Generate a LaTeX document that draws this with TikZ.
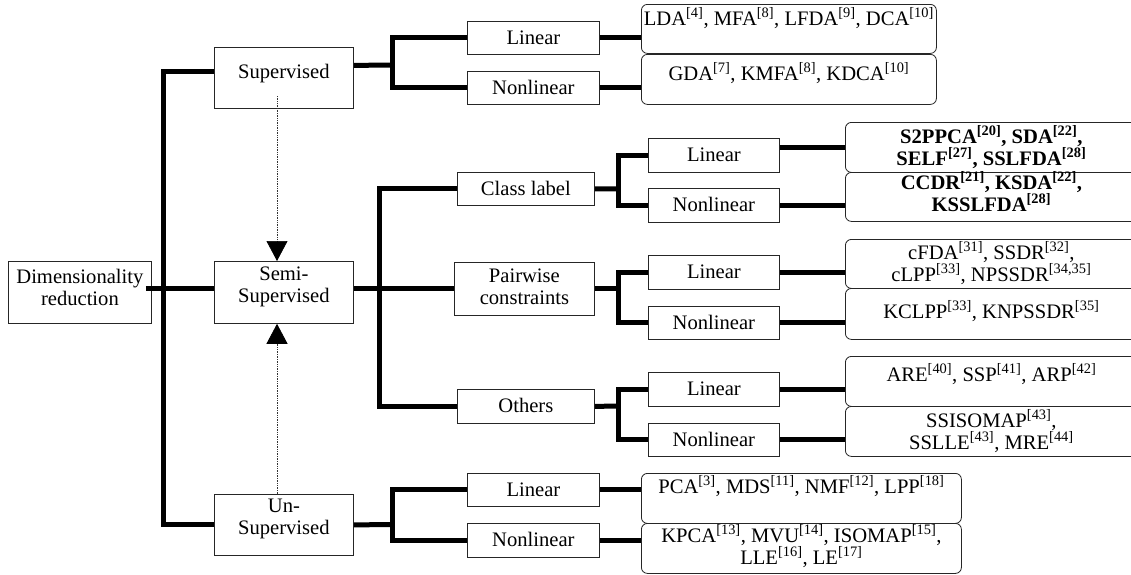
\documentclass[tikz,border=0pt]{standalone}
\usepackage{fontspec}
\setmainfont{Liberation Serif}
\usetikzlibrary{arrows.meta}
\newcommand\sr[1]{\textsuperscript{[#1]}}
% \bx{height}{width}{first baseline from top}{text}
\newcommand\bx[4]{\parbox[c][#1pt][t]{#2pt}{\fontsize{20.6}{22}\selectfont\lineskiplimit=-30pt\relax\centering\vspace*{\dimexpr#3pt-20pt\relax}\rule{0pt}{20pt}#4\par}}
\tikzset{
  box/.style={draw=black!85, line width=0.8pt, inner sep=0pt, anchor=north west},
  res/.style={box, rounded corners=6pt},
  conn/.style={line width=5pt, line join=miter, line cap=butt},
  dotl/.style={black!80, line width=0.7pt, densely dotted, -{Triangle[length=20pt,width=21pt,black]}}
}
\begin{document}
\begin{tikzpicture}[x=1pt,y=-1pt]
\clip (0,0) rectangle (1131,574);
\fill[white] (0,0) rectangle (1131,574);
% main nodes
\node[box] (dr) at (8,261) {\bx{62}{143}{22}{Dimensionality\\reduction}};
\node[box] (sup) at (214,47) {\bx{61}{139}{31}{Supervised}};
\node[box] (semi) at (214,261) {\bx{62}{139}{19}{Semi-\\Supervised}};
\node[box] (unsup) at (214,494) {\bx{61}{139}{18}{Un-\\Supervised}};
% supervised
\node[box] (sl) at (467,21) {\bx{33}{132}{23}{Linear}};
\node[box] (sn) at (467,71) {\bx{33}{132}{23}{Nonlinear}};
\node[res] (slr) at (641,4) {\bx{49}{295}{21}{LDA\sr{4},~MFA\sr{8},~LFDA\sr{9},~DCA\sr{10}}};
\node[res] (snr) at (641,54) {\bx{50}{295}{26}{GDA\sr{7},~KMFA\sr{8},~KDCA\sr{10}}};
% semi-supervised
\node[box] (cl) at (457,172) {\bx{33}{137}{23}{Class label}};
\node[box] (pw) at (454,262) {\bx{53}{140}{20}{Pairwise\\constraints}};
\node[box] (ot) at (457,389) {\bx{34}{137}{23}{Others}};
\node[box] (cll) at (648,138) {\bx{34}{131}{23}{Linear}};
\node[box] (cln) at (648,188) {\bx{34}{131}{23}{Nonlinear}};
\node[box] (pwl) at (648,255) {\bx{34}{131}{23}{Linear}};
\node[box] (pwn) at (648,306) {\bx{33}{131}{23}{Nonlinear}};
\node[box] (otl) at (648,372) {\bx{34}{131}{23}{Linear}};
\node[box] (otn) at (648,423) {\bx{33}{131}{23}{Nonlinear}};
\node[res] (cllr) at (845,122) {\bx{50}{292}{21}{\bfseries S2PPCA\sr{20},~SDA\sr{22},\\SELF\sr{27},~SSLFDA\sr{28}}};
\node[res] (clnr) at (845,172) {\bx{49}{292}{17}{\bfseries CCDR\sr{21},~KSDA\sr{22},\\KSSLFDA\sr{28}}};
\node[res] (pwlr) at (845,239) {\bx{49}{292}{20}{cFDA\sr{31},~SSDR\sr{32},\\cLPP\sr{33},~NPSSDR\sr{34,35}}};
\node[res] (pwnr) at (845,288) {\bx{51}{292}{30}{KCLPP\sr{33},~KNPSSDR\sr{35}}};
\node[res] (otlr) at (845,356) {\bx{50}{292}{25}{ARE\sr{40},~SSP\sr{41},~ARP\sr{42}}};
\node[res] (otnr) at (845,406) {\bx{50}{292}{21}{SSISOMAP\sr{43},\\SSLLE\sr{43},~MRE\sr{44}}};
% unsupervised
\node[box] (ul) at (467,473) {\bx{33}{132}{23}{Linear}};
\node[box] (un) at (467,523) {\bx{34}{132}{23}{Nonlinear}};
\node[res] (ulr) at (641,473) {\bx{50}{320}{20}{PCA\sr{3},~MDS\sr{11},~NMF\sr{12},~LPP\sr{18}}};
\node[res] (unr) at (641,523) {\bx{50}{320}{19}{KPCA\sr{13},~MVU\sr{14},~ISOMAP\sr{15},\\LLE\sr{16},~LE\sr{17}}};
% bracket points
\coordinate (bL) at (163,288);
\coordinate (bS) at (392,65);
\coordinate (bM) at (379,288);
\coordinate (bC) at (618,189);
\coordinate (bP) at (618,288.5);
\coordinate (bO) at (618,406);
\coordinate (bU) at (392,524.5);
% first level
\draw[conn] ([yshift=6.5pt]sup.west) -| (bL) |- (unsup.west);
\draw[conn] ([xshift=-6pt]dr.east |- bL) -- (semi.west |- bL);
% supervised
\draw[conn] ([yshift=12.5pt]sup.east) -- (bS);
\draw[conn] (sl.west) -| (bS) |- (sn.west);
\draw[conn] (sl.east) -- (sl.east -| slr.west);
\draw[conn] (sn.east) -- (sn.east -| snr.west);
% semi-supervised
\draw[conn] (semi.east |- bM) -- (bM);
\draw[conn] (cl.west) -| (bM) |- (ot.west);
\draw[conn] (bM) -- (pw.west |- bM);
\draw[conn] (cl.east) -- (bC);
\draw[conn] (cll.west) -| (bC) |- (cln.west);
\draw[conn] (pw.east |- bP) -- (bP);
\draw[conn] (pwl.west) -| (bP) |- (pwn.west);
\draw[conn] (ot.east) -- (bO);
\draw[conn] (otl.west) -| (bO) |- (otn.west);
\draw[conn] ([yshift=8pt]cll.east) -- ([yshift=8pt]cll.east -| cllr.west);
\draw[conn] (cln.east) -- (cln.east -| clnr.west);
\draw[conn] (pwl.east) -- (pwl.east -| pwlr.west);
\draw[conn] (pwn.east) -- (pwn.east -| pwnr.west);
\draw[conn] (otl.east) -- (otl.east -| otlr.west);
\draw[conn] (otn.east) -- (otn.east -| otnr.west);
% unsupervised
\draw[conn] (unsup.east) -- (bU);
\draw[conn] (ul.west) -| (bU) |- (un.west);
\draw[conn] (ul.east) -- (ul.east -| ulr.west);
\draw[conn] (un.east) -- (un.east -| unr.west);
% dotted arrows
\coordinate (a1) at (277,96);
\draw[dotl] (a1) -- (a1 |- semi.north);
\draw[dotl] (a1 |- unsup.north) -- (a1 |- semi.south);
\end{tikzpicture}
\end{document}
